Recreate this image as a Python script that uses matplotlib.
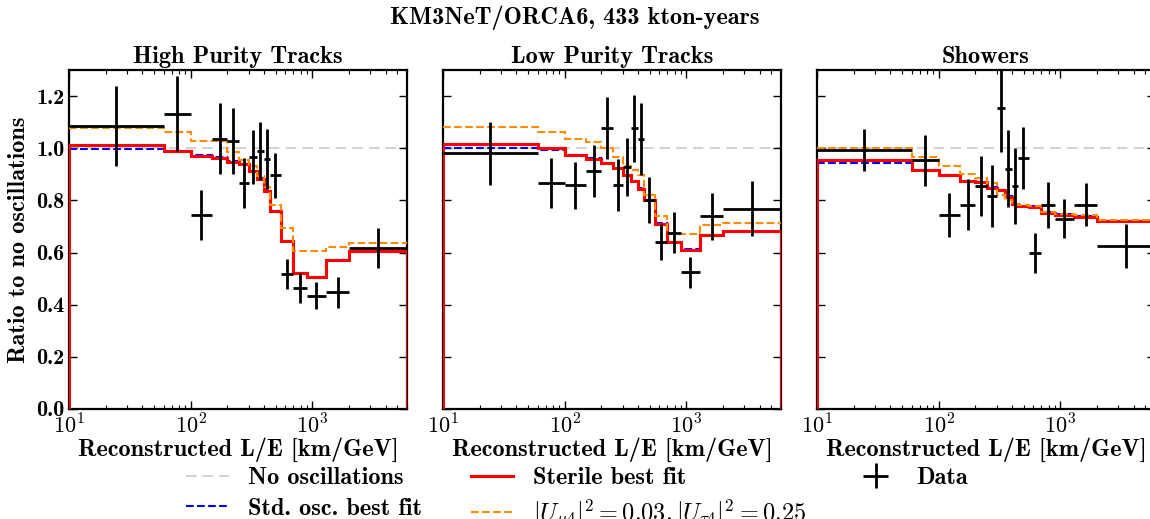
import numpy as np
import matplotlib
matplotlib.use("Agg")
import matplotlib.pyplot as plt
from matplotlib.ticker import FixedLocator, LogLocator, NullFormatter, FuncFormatter

plt.rcParams['font.family'] = ['cmb10', 'DejaVu Serif']
plt.rcParams['mathtext.fontset'] = 'cm'
plt.rcParams['axes.formatter.use_mathtext'] = True
plt.rcParams['axes.unicode_minus'] = False

# Bin edges in reconstructed L/E [km/GeV]
bin_edges = [10, 60, 100, 150, 200, 250, 300, 350, 400, 450, 550, 700, 900, 1300, 2000, 6000]

panel_titles = ["High Purity Tracks", "Low Purity Tracks", "Showers"]

# ---- High Purity Tracks ----
hpt_data = [1.085, 1.133, 0.743, 1.037, 1.028, 0.867, 0.967, 0.990, 0.958, 0.896,
            0.519, 0.465, 0.435, 0.448, 0.618]
hpt_err = [0.155, 0.145, 0.096, 0.135, 0.126, 0.097, 0.104, 0.110, 0.115, 0.085,
           0.058, 0.058, 0.052, 0.060, 0.078]
hpt_sterile = [1.012, 0.991, 0.972, 0.963, 0.948, 0.939, 0.913, 0.883, 0.836, 0.759,
               0.644, 0.522, 0.506, 0.572, 0.604]
hpt_std = [0.997, 0.989, 0.974, 0.965, 0.950, 0.940, 0.914, 0.885, 0.838, 0.760,
           0.645, 0.520, 0.507, 0.573, 0.602]
hpt_alt = [1.078, 1.063, 1.028, 1.028, 0.985, 0.955, 0.930, 0.895, 0.850, 0.781,
           0.695, 0.605, 0.605, 0.622, 0.637]

# ---- Low Purity Tracks ----
lpt_data = [0.980, 0.867, 0.858, 0.913, 1.078, 0.858, 0.928, 1.076, 1.035, 0.800,
            0.640, 0.676, 0.524, 0.739, 0.768]
lpt_err = [0.120, 0.096, 0.090, 0.100, 0.120, 0.100, 0.112, 0.130, 0.137, 0.088,
           0.070, 0.078, 0.060, 0.090, 0.106]
lpt_sterile = [1.018, 0.999, 0.973, 0.960, 0.944, 0.924, 0.896, 0.875, 0.845, 0.800,
               0.711, 0.640, 0.611, 0.666, 0.682]
lpt_std = [0.999, 0.992, 0.974, 0.961, 0.945, 0.925, 0.897, 0.876, 0.846, 0.801,
           0.712, 0.641, 0.612, 0.667, 0.683]
lpt_alt = [1.082, 1.063, 1.037, 1.024, 0.999, 0.967, 0.931, 0.915, 0.896, 0.819,
           0.739, 0.670, 0.670, 0.707, 0.713]

# ---- Showers ----
sh_data = [0.992, 0.954, 0.745, 0.784, 0.855, 0.816, 1.156, 0.922, 0.854, 0.963,
           0.598, 0.784, 0.730, 0.784, 0.625]
sh_err = [0.080, 0.098, 0.085, 0.098, 0.115, 0.118, 0.170, 0.147, 0.145, 0.120,
          0.077, 0.088, 0.074, 0.082, 0.083]
sh_sterile = [0.954, 0.918, 0.896, 0.875, 0.870, 0.848, 0.839, 0.813, 0.788, 0.778,
              0.775, 0.752, 0.743, 0.736, 0.720]
sh_std = [0.944, 0.918, 0.897, 0.876, 0.871, 0.850, 0.841, 0.815, 0.790, 0.780,
          0.777, 0.755, 0.748, 0.739, 0.722]
sh_alt = [0.999, 0.967, 0.931, 0.900, 0.887, 0.867, 0.819, 0.800, 0.785, 0.784,
          0.778, 0.755, 0.746, 0.743, 0.726]

panels = [
    (hpt_data, hpt_err, hpt_sterile, hpt_std, hpt_alt),
    (lpt_data, lpt_err, lpt_sterile, lpt_std, lpt_alt),
    (sh_data, sh_err, sh_sterile, sh_std, sh_alt),
]

edges = np.array(bin_edges, dtype=float)
centers = np.sqrt(edges[:-1] * edges[1:])
xerr = np.vstack([centers - edges[:-1], edges[1:] - centers])

W, H = 1150, 519
fig = plt.figure(figsize=(W / 100, H / 100), dpi=100)

lefts = [69, 443, 817]
ax_w, top, bottom = 338, 70, 409
FS = 17.5
TFS = 16

def dec_fmt(v, pos):
    e = int(round(np.log10(v)))
    return r'$\mathbf{10^{%d}}$' % e

axes = []
for i, (lx, (dat, err, ster, std, alt)) in enumerate(zip(lefts, panels)):
    ax = fig.add_axes([lx / W, 1 - bottom / H, ax_w / W, (bottom - top) / H])
    axes.append(ax)
    ax.set_xscale('log')
    ax.axhline(1.0, color='#d3d3d3', ls='--', lw=1.5, dashes=(5, 3), zorder=1,
               label='No oscillations')
    ax.stairs(std, edges, baseline=None, color='blue', ls='--', lw=1.5, zorder=2,
              label='Std. osc. best fit')
    ax.stairs(ster, edges, baseline=0, color='red', lw=2.2, zorder=3,
              label='Sterile best fit')
    ax.stairs(alt, edges, baseline=None, color='darkorange', ls='--', lw=1.5, zorder=4,
              label=r'$|U_{\mu4}|^2 = \mathbf{0.03}, |U_{\tau4}|^2 = \mathbf{0.25}$')
    ax.errorbar(centers, dat, yerr=err, xerr=xerr, fmt='none', ecolor='black',
                elinewidth=2.0, capsize=0, zorder=5, label='Data')
    ax.set_xlim(10, 6000)
    ax.set_ylim(0, 1.3)
    ax.yaxis.set_major_locator(FixedLocator([0.0, 0.2, 0.4, 0.6, 0.8, 1.0, 1.2]))
    ax.xaxis.set_major_locator(LogLocator(base=10, numticks=10))
    ax.xaxis.set_minor_locator(LogLocator(base=10, subs=np.arange(2, 10), numticks=20))
    ax.xaxis.set_minor_formatter(NullFormatter())
    ax.xaxis.set_major_formatter(FuncFormatter(dec_fmt))
    ax.tick_params(which='both', direction='in', top=True, right=True, labelsize=TFS)
    ax.tick_params(which='major', length=6, width=1.0, pad=3)
    ax.tick_params(which='minor', length=3, width=0.8)
    for s in ax.spines.values():
        s.set_linewidth(1.6)
    if i == 0:
        ax.yaxis.set_major_formatter(FuncFormatter(lambda v, p: '%.1f' % v))
        ax.set_ylabel('Ratio to no oscillations', fontsize=FS, labelpad=5)
    else:
        ax.set_yticklabels([])
    ax.set_xlabel('Reconstructed L/E [km/GeV]', fontsize=FS, labelpad=0)
    ax.set_title(panel_titles[i], fontsize=FS, pad=5)

fig.suptitle('KM3NeT/ORCA6, 433 kton-years', x=0.5, y=1 - 5 / H, fontsize=FS, va='top')

handles, labels = axes[0].get_legend_handles_labels()
fig.legend(handles, labels, ncol=3, loc='upper left', bbox_to_anchor=(186 / W, 1 - 467 / H),
           frameon=False, fontsize=FS, borderpad=0, borderaxespad=0,
           handlelength=1.75, handletextpad=0.8, columnspacing=2.0, labelspacing=0.35)

fig.savefig('out.png', dpi=100)
